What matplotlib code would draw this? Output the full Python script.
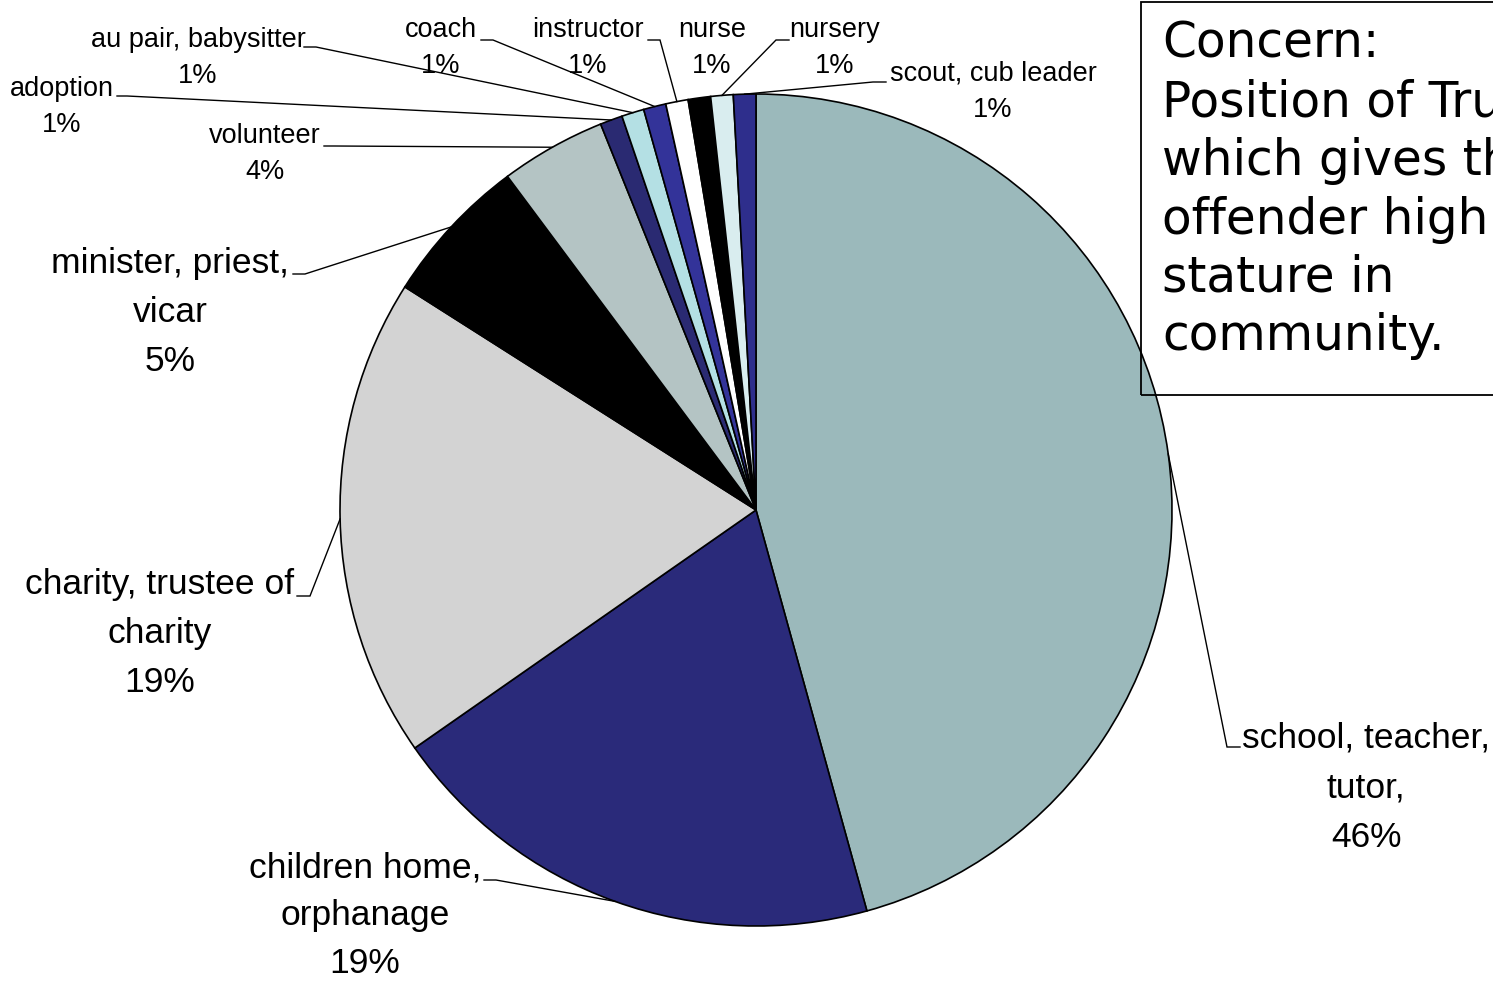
import matplotlib
matplotlib.use('Agg')
import matplotlib.pyplot as plt
import numpy as np
from matplotlib.patches import Rectangle

# ---- data ----
categories = ["school, teacher,\ntutor,", "children home,\norphanage",
              "charity, trustee of\ncharity", "minister, priest,\nvicar",
              "volunteer", "adoption", "au pair, babysitter", "coach",
              "instructor", "nurse", "nursery", "scout, cub leader"]
shares = [45.7, 19.6, 18.7, 5.8, 4.1, 0.87, 0.87, 0.87, 0.87, 0.87, 0.87, 0.87]
pct_labels = ["46%", "19%", "19%", "5%", "4%", "1%", "1%", "1%", "1%", "1%", "1%", "1%"]
colors = ["#9BB9BB", "#2A2A7A", "#D3D3D3", "#000000", "#B4C4C4", "#2A2A72",
          "#B4E0E4", "#333399", "#FFFFFF", "#000000", "#D9EDEF", "#2E2E8C"]
box_lines = ["Concern:", "Position of Trust", "which gives the", "offender high",
             "stature in", "community."]

W, H = 1493, 981
fig = plt.figure(figsize=(W / 100, H / 100), dpi=100)
ax = fig.add_axes([0, 0, 1, 1])

cx, cy, R = 756, 510, 416
wedges, _ = ax.pie(shares, colors=colors, startangle=90, counterclock=False,
                   center=(cx, H - cy), radius=R, frame=True,
                   wedgeprops=dict(edgecolor="black", linewidth=1.2))
ax.set_xlim(0, W)
ax.set_ylim(0, H)
ax.set_aspect('equal')
ax.axis('off')

FAM = ['Liberation Sans', 'DejaVu Sans']
BIG, SMALL = 25.5, 19.5

# layout: text centre x, first baseline (image px), font size, pitch,
# stub (x at text side, x at elbow, y) or None
layout = [
    (1366, 747, BIG, 50, (1240, 1227, 747)),
    (365, 877, BIG, 48, (484, 496, 880)),
    (160, 594, BIG, 49, (297, 310, 596)),
    (170, 273, BIG, 49, (293, 305, 274)),
    (265, 143, SMALL, 36, (324, 334, 146)),
    (62, 96, SMALL, 36, (117, 127, 96)),
    (198, 47, SMALL, 36, (304, 316, 47)),
    (441, 37, SMALL, 36, (481, 493, 40)),
    (588, 37, SMALL, 36, (648, 660, 40)),
    (712, 37, SMALL, 36, None),
    (835, 37, SMALL, 36, (789, 776, 40)),
    (993, 81, SMALL, 36, (886, 873, 82)),
]

for w, cat, pct, (tx, ty, fs, pitch, stub) in zip(wedges, categories, pct_labels, layout):
    lines = cat.split("\n") + [pct]
    for k, line in enumerate(lines):
        ax.text(tx, H - (ty + k * pitch), line, ha='center', va='baseline',
                fontsize=fs, family=FAM, color='black')
    if stub is not None:
        mid = np.deg2rad((w.theta1 + w.theta2) / 2)
        px = cx + R * np.cos(mid)
        py = (H - cy) + R * np.sin(mid)
        ax.plot([stub[0], stub[1], px], [H - stub[2], H - stub[2], py],
                color='black', linewidth=1.0, solid_joinstyle='miter', zorder=5)

# text box on the right (clipped by figure edge)
ax.add_patch(Rectangle((1141, H - 395), 500, 393, facecolor='none',
                       edgecolor='black', linewidth=1.3, zorder=6, clip_on=False))
for k, line in enumerate(box_lines):
    ax.text(1162, H - (58 + k * 58.5), line, ha='left', va='baseline',
            fontsize=35, family=['DejaVu Sans'], color='black', zorder=7)

fig.savefig("out.png", dpi=100)
